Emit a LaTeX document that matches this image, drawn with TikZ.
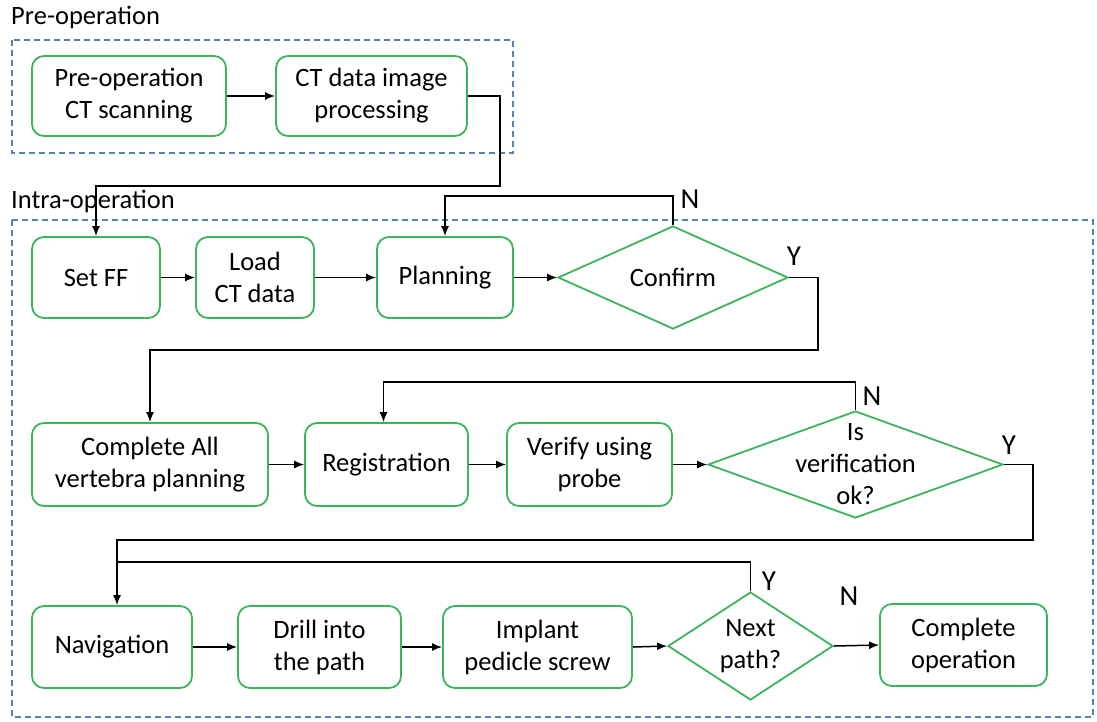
\documentclass[tikz,border=0pt]{standalone}
\usepackage{fontspec}
\setmainfont{Carlito}
\usetikzlibrary{shapes.geometric,arrows.meta}
\definecolor{boxgreen}{RGB}{60,180,90}
\definecolor{dashblue}{RGB}{85,130,180}
\begin{document}
\begin{tikzpicture}[x=1pt,y=-1pt,font=\fontsize{26.5}{32}\selectfont,
  proc/.style={draw=boxgreen, line width=1.8pt, rounded corners=12pt, align=center, inner sep=0pt, minimum height=81pt},
  dia/.style={draw=boxgreen, line width=1.8pt, diamond, inner sep=0pt},
  txt/.style={inner sep=0pt, align=center},
  yn/.style={inner sep=0pt, font=\fontsize{29}{32}\selectfont},
  conn/.style={line width=1.5pt, -{Latex[length=10pt,width=8pt]}},
  plain/.style={line width=1.5pt},
  grp/.style={draw=dashblue, dash pattern=on 6pt off 4pt, line width=1.1pt}]
\useasboundingbox (0,0) rectangle (1097,721);
% groups
\draw[grp] (12,40) rectangle (513,153);
\draw[grp] (12,220) rectangle (1093,717);
\node[txt, anchor=west] (hpre) at (11,17) {Pre-operation};
\node[txt, anchor=west] (hintra) at (11,201) {Intra-operation};
% pre-operation
\node[proc, minimum width=194pt, minimum height=80pt] (pre1) at (129,96) {Pre-operation\\CT scanning};
\node[proc, minimum width=191pt, minimum height=80pt] (pre2) at (371.5,96) {CT data image\\processing};
% row 1
\node[proc, minimum width=128pt] (setff) at (96,277.5) {Set FF};
\node[proc, minimum width=118pt] (load) at (255,277.5) {Load\\CT data};
\node[proc, minimum width=136pt] (plan) at (445,277.5) {Planning};
\node[dia, minimum width=230pt, minimum height=103pt] (conf) at (673,277.5) {};
\node[txt] (conft) at (conf) {Confirm};
% row 2
\node[proc, minimum width=236pt, minimum height=83pt] (comp) at (150,464.5) {Complete All\\vertebra planning};
\node[proc, minimum width=163pt, minimum height=83pt] (reg) at (386.5,464.5) {Registration};
\node[proc, minimum width=165pt, minimum height=83pt] (ver) at (589.5,464.5) {Verify using\\probe};
\node[dia, minimum width=295pt, minimum height=107pt] (isver) at (855.5,464.5) {};
\node[txt] (isvert) at (isver) {Is\\verification\\ok?};
% row 3
\node[proc, minimum width=160pt, minimum height=82pt] (nav) at (112,647) {Navigation};
\node[proc, minimum width=163pt, minimum height=82pt] (drill) at (319.5,647) {Drill into\\the path};
\node[proc, minimum width=189pt, minimum height=82pt] (impl) at (537.5,647) {Implant\\pedicle screw};
\node[dia, minimum width=165pt, minimum height=108pt] (next) at (750.5,646) {};
\node[txt] (nextt) at (next) {Next\\path?};
\node[proc, minimum width=167pt, minimum height=82pt] (compop) at (963.5,645) {Complete\\operation};
% connectors
\coordinate (c1) at (500,186);
\draw[conn] (pre1.east) -- (pre2.west);
\draw[conn] (pre2.east) -| (c1) -| (setff.north);
\draw[conn] (setff.east) -- (load.west);
\draw[conn] (load.east) -- (plan.west);
\draw[conn] (plan.east) -- (conf.west);
\coordinate (n1) at (673,196);
\draw[conn] (conf.north) -- (n1) -| (plan.north);
\coordinate (y1) at (818,350);
\draw[conn] (conf.east) -| (y1) -| (comp.north);
\draw[conn] (comp.east) -- (reg.west);
\draw[conn] (reg.east) -- (ver.west);
\draw[conn] (ver.east) -- (isver.west);
\coordinate (n2) at (855.5,382);
\draw[conn] (isver.north) -- (n2) -| ([xshift=-3pt]reg.north);
\coordinate (y2) at (1033,540);
\draw[conn] (isver.east) -| (y2) -| ([xshift=5pt]nav.north);
\coordinate (y3) at (750.5,562);
\coordinate (j3) at (117,562);
\draw[plain] (next.north) -- (y3) -- (j3);
\draw[conn] (nav.east) -- (drill.west);
\draw[conn] (drill.east) -- (impl.west);
\draw[conn] (impl.east) -- (next.west);
\draw[conn] (next.east) -- (compop.west);
% labels
\node[yn] (lN1) at (690,199) {N};
\node[yn] (lY1) at (794,256) {Y};
\node[yn] (lN2) at (872,396) {N};
\node[yn] (lY2) at (1009,445) {Y};
\node[yn] (lY3) at (769,581) {Y};
\node[yn] (lN3) at (849,596) {N};
\end{tikzpicture}
\end{document}
